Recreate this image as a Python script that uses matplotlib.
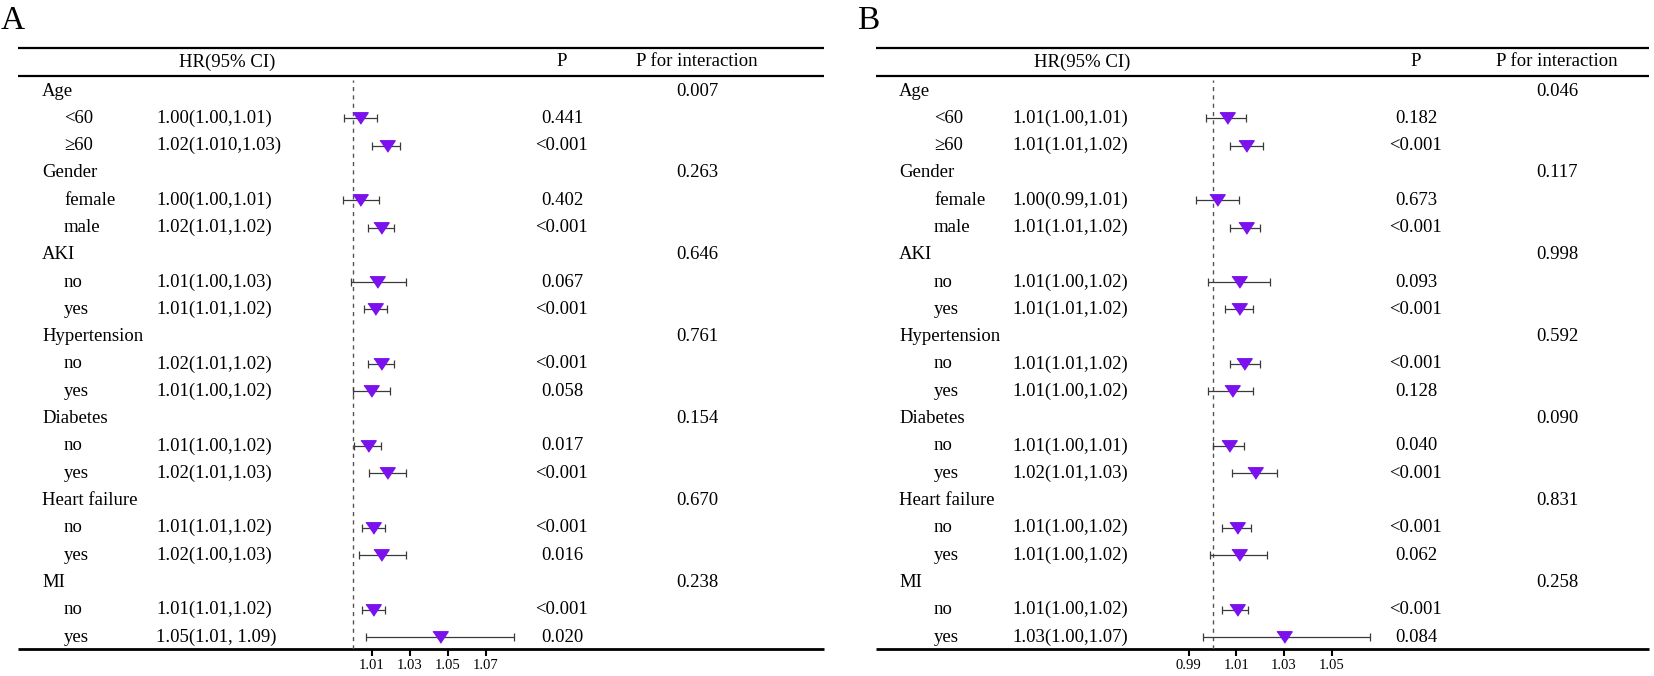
import numpy as np
import matplotlib
matplotlib.use("Agg")
import matplotlib.pyplot as plt

plt.rcParams['font.family'] = ['Liberation Serif', 'DejaVu Serif']

# Data
groups = ['Age', 'Gender', 'AKI', 'Hypertension', 'Diabetes', 'Heart failure', 'MI']
subgroups = [['<60', '≥60'], ['female', 'male'], ['no', 'yes'], ['no', 'yes'],
             ['no', 'yes'], ['no', 'yes'], ['no', 'yes']]

# panel A
hr_text_a = ['1.00(1.00,1.01)', '1.02(1.010,1.03)', '1.00(1.00,1.01)', '1.02(1.01,1.02)',
             '1.01(1.00,1.03)', '1.01(1.01,1.02)', '1.02(1.01,1.02)', '1.01(1.00,1.02)',
             '1.01(1.00,1.02)', '1.02(1.01,1.03)', '1.01(1.01,1.02)', '1.02(1.00,1.03)',
             '1.01(1.01,1.02)', '1.05(1.01, 1.09)']
est_a = [1.0039, 1.0180, 1.0039, 1.0148, 1.0131, 1.0120, 1.0148, 1.0099,
         1.0080, 1.0180, 1.0110, 1.0148, 1.0110, 1.0461]
lo_a = [0.9955, 1.0101, 0.9950, 1.0080, 0.9991, 1.0061, 1.0080, 1.0001,
        1.0010, 1.0089, 1.0050, 1.0032, 1.0050, 1.0069]
hi_a = [1.0129, 1.0251, 1.0141, 1.0220, 1.0282, 1.0182, 1.0220, 1.0199,
        1.0150, 1.0280, 1.0169, 1.0282, 1.0173, 1.0850]
p_a = ['0.441', '<0.001', '0.402', '<0.001', '0.067', '<0.001', '<0.001', '0.058',
       '0.017', '<0.001', '<0.001', '0.016', '<0.001', '0.020']
pint_a = ['0.007', '0.263', '0.646', '0.761', '0.154', '0.670', '0.238']
ticks_a = [1.01, 1.03, 1.05, 1.07]

# panel B
hr_text_b = ['1.01(1.00,1.01)', '1.01(1.01,1.02)', '1.00(0.99,1.01)', '1.01(1.01,1.02)',
             '1.01(1.00,1.02)', '1.01(1.01,1.02)', '1.01(1.01,1.02)', '1.01(1.00,1.02)',
             '1.01(1.00,1.01)', '1.02(1.01,1.03)', '1.01(1.00,1.02)', '1.01(1.00,1.02)',
             '1.01(1.00,1.02)', '1.03(1.00,1.07)']
est_b = [1.0061, 1.0140, 1.0020, 1.0140, 1.0111, 1.0111, 1.0131, 1.0082,
         1.0070, 1.0180, 1.0101, 1.0111, 1.0101, 1.0300]
lo_b = [0.9971, 1.0072, 0.9932, 1.0072, 0.9981, 1.0051, 1.0072, 0.9981,
        1.0001, 1.0080, 1.0041, 0.9991, 1.0041, 0.9961]
hi_b = [1.0140, 1.0210, 1.0112, 1.0200, 1.0240, 1.0171, 1.0200, 1.0171,
        1.0131, 1.0270, 1.0160, 1.0230, 1.0150, 1.0660]
p_b = ['0.182', '<0.001', '0.673', '<0.001', '0.093', '<0.001', '<0.001', '0.128',
       '0.040', '<0.001', '<0.001', '0.062', '<0.001', '0.084']
pint_b = ['0.046', '0.117', '0.998', '0.592', '0.090', '0.831', '0.258']
ticks_b = [0.99, 1.01, 1.03, 1.05]

# Layout (pixels)
W, H = 1654, 676
row0, row_h = 91, 27.3
top_y, head_y, bot_y = 48, 76, 649
fs = 13.5
purple = '#7B12EE'
tri = [(-1, 0.75), (1, 0.75), (0, -0.75)]

fig = plt.figure(figsize=(W / 100, H / 100), dpi=100)
canvas = fig.add_axes([0, 0, 1, 1])
canvas.set_xlim(0, W)
canvas.set_ylim(H, 0)
canvas.axis('off')


def draw_panel(letter, letter_x, x0, x1, cols, est, lo, hi, hr_text, p, pint, ticks,
               fx0, fx1, ref_px, px_per_unit):
    lab_x, sub_x, hr_x, hrh_x, p_x, pint_x = cols
    canvas.text(letter_x, 21, letter, fontsize=24, va='center', ha='left')
    canvas.plot([x0, x1], [top_y, top_y], color='black', lw=1.6, solid_capstyle='butt')
    canvas.plot([x0, x1], [head_y, head_y], color='black', lw=1.6, solid_capstyle='butt')
    canvas.plot([x0, x1], [bot_y, bot_y], color='black', lw=2.0, solid_capstyle='butt')
    hy = (top_y + head_y) / 2
    canvas.text(hrh_x, hy, 'HR(95% CI)', fontsize=fs, ha='center', va='center')
    canvas.text(p_x, hy, 'P', fontsize=fs, ha='center', va='center')
    canvas.text(pint_x, hy, 'P for interaction', fontsize=fs, ha='center', va='center')

    # forest axes: y in pixel units, x in HR units
    ax = fig.add_axes([fx0 / W, (H - bot_y) / H, (fx1 - fx0) / W, (bot_y - 80) / H])
    ax.set_xlim(1 + (fx0 - ref_px) / px_per_unit, 1 + (fx1 - ref_px) / px_per_unit)
    ax.set_ylim(bot_y, 80)
    ax.patch.set_alpha(0)
    for s in ax.spines.values():
        s.set_visible(False)
    ax.set_yticks([])
    ax.set_xticks(ticks)
    ax.set_xticklabels([f'{t:.2f}' for t in ticks])
    ax.tick_params(axis='x', direction='out', length=5, width=1.5, labelsize=10.5, pad=2)
    ax.axvline(1.0, color='#555555', lw=1, linestyle=(0, (3, 3)))

    est = np.array(est)
    lo = np.array(lo)
    hi = np.array(hi)
    ys = []
    k = 0
    r = 0
    for gi, g in enumerate(groups):
        gy = row0 + row_h * r
        canvas.text(lab_x, gy, g, fontsize=fs, ha='left', va='center')
        canvas.text(pint_x, gy, pint[gi], fontsize=fs, ha='center', va='center')
        r += 1
        for s in subgroups[gi]:
            sy = row0 + row_h * r
            canvas.text(sub_x, sy, s, fontsize=fs, ha='left', va='center')
            canvas.text(hr_x, sy, hr_text[k], fontsize=fs, ha='left', va='center')
            canvas.text(p_x, sy, p[k], fontsize=fs, ha='center', va='center')
            ys.append(sy)
            k += 1
            r += 1
    ys = np.array(ys)
    ax.errorbar(est, ys, xerr=[est - lo, hi - est], fmt='none', ecolor='#3a3a3a',
                elinewidth=0.9, capsize=2.6, capthick=0.9, zorder=2)
    ax.plot(est, ys, linestyle='none', marker=tri, markersize=11,
            color=purple, markeredgecolor=purple, zorder=3)


draw_panel('A', 1, 18, 824, (42, 64, 156, 227, 562, 697), est_a, lo_a, hi_a,
           hr_text_a, p_a, pint_a, ticks_a, 300, 540, 352.5, 1900)
draw_panel('B', 857, 876, 1649, (899, 934, 1012, 1082, 1416, 1557), est_b, lo_b, hi_b,
           hr_text_b, p_b, pint_b, ticks_b, 1150, 1400, 1212.5, 2385)

fig.savefig('out.png', dpi=100)
